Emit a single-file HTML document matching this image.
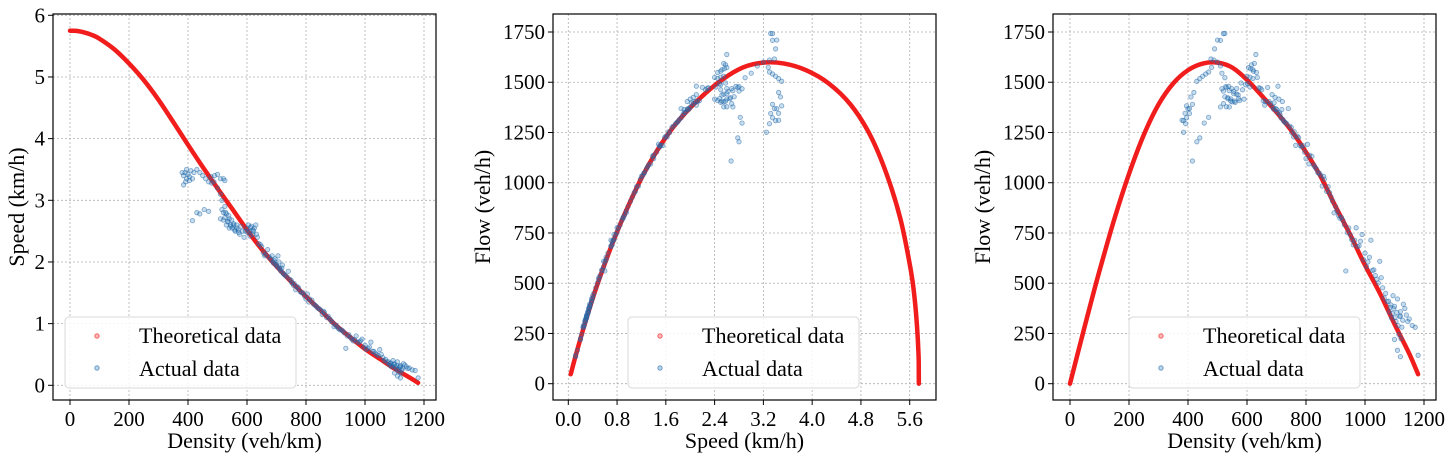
<!DOCTYPE html>
<html><head><meta charset="utf-8">
<style>
body{margin:0;background:#fff;}
svg{display:block;}
text{font-family:"Liberation Serif","Times New Roman",serif;}
</style></head>
<body>
<svg id="fig" width="1456" height="463"></svg>
<script>
// Theoretical curve samples (density veh/km, speed km/h)
const theoDensity=[0,10,25,50,75,100,150,200,250,300,350,400,450,500,550,600,650,700,750,800,850,900,950,1000,1050,1100,1150,1180];
const theoSpeed=[5.75,5.749,5.745,5.72,5.68,5.62,5.45,5.22,4.95,4.63,4.27,3.90,3.54,3.195,2.86,2.52,2.205,1.93,1.68,1.44,1.212,0.98,0.78,0.59,0.43,0.27,0.13,0.04];
// Actual data (density, speed)
const actDensity=[380,385,390,392,395,400,405,410,415,420,385,415,440,455,430,470,430,440,450,460,470,480,490,500,510,520,525,500,510,515,510,515,520,525,530,535,540,545,550,555,560,565,570,575,580,585,590,520,530,540,600,605,610,615,620,625,630,635,640,610,620,650,660,670,680,685,690,695,700,705,710,715,720,725,730,740,745,750,760,765,770,780,790,795,800,805,810,820,830,840,850,855,860,870,880,890,895,900,910,920,930,935,940,950,960,970,980,990,1000,1010,1020,1030,1040,1050,1060,1070,1080,1085,1090,1095,1100,1105,1110,1115,1120,1120,1125,1130,1140,1150,1160,1170,1180,1110,1100,1120,
 525,535,545,555,528,538,548,558,565,572,595,602,612,622,632,645,655,662,675,688,692,698,703,708,712,718,722,735,752,758,775,785,812,825,835,845,862,875,885,905,915,925,945,955,965,975,985,995,1005,1015,1025,1035,1045,1055,1065,1075,1082,1088,1092,1098,1102,1108,1112,1118,1122,1128,1135,1145,395,405,488,478];
const actSpeed=[3.45,3.4,3.45,3.3,3.5,3.42,3.38,3.48,3.35,3.45,3.25,2.67,2.78,2.85,2.8,2.82,3.5,3.45,3.4,3.35,3.3,3.28,3.4,3.42,3.35,3.35,3.32,3.2,3.1,3.0,2.7,2.85,2.8,2.9,2.78,2.65,2.7,2.6,2.55,2.62,2.5,2.55,2.52,2.45,2.58,2.5,2.4,2.68,2.6,2.55,2.55,2.6,2.5,2.58,2.45,2.55,2.6,2.4,2.3,2.42,2.52,2.25,2.1,2.2,2.05,2.1,1.98,2.05,1.95,2.1,1.9,1.85,1.95,1.8,1.78,1.85,1.72,1.7,1.65,1.55,1.6,1.52,1.5,1.45,1.4,1.48,1.35,1.38,1.3,1.25,1.22,1.15,1.2,1.1,1.08,1.02,0.95,0.98,0.92,0.9,0.85,0.6,0.8,0.78,0.72,0.8,0.7,0.75,0.65,0.6,0.7,0.55,0.5,0.58,0.45,0.42,0.38,0.35,0.3,0.4,0.35,0.28,0.38,0.22,0.12,0.32,0.25,0.35,0.3,0.28,0.25,0.24,0.12,0.15,0.2,0.3,
 2.72,2.66,2.58,2.6,2.8,2.75,2.68,2.52,2.6,2.48,2.5,2.48,2.56,2.5,2.45,2.28,2.15,2.12,2.08,2.0,2.02,1.96,1.92,2.0,1.88,1.9,1.82,1.76,1.66,1.62,1.58,1.5,1.4,1.32,1.28,1.24,1.18,1.12,1.05,0.95,0.9,0.88,0.82,0.75,0.74,0.7,0.72,0.62,0.58,0.62,0.55,0.52,0.48,0.5,0.4,0.38,0.33,0.36,0.32,0.34,0.3,0.32,0.26,0.3,0.2,0.28,0.33,0.27,3.35,3.32,3.3,3.38];
const densTicks=[0,200,400,600,800,1000,1200];
const speedTicks=[0,1,2,3,4,5,6];
const speedTicks2=[0,0.8,1.6,2.4,3.2,4.0,4.8,5.6];
const flowTicks=[0,250,500,750,1000,1250,1500,1750];

const NS="http://www.w3.org/2000/svg";
const svg=document.getElementById('fig');
function mk(tag,attrs,parent){const e=document.createElementNS(NS,tag);for(const k in attrs)e.setAttribute(k,attrs[k]);(parent||svg).appendChild(e);return e;}
function lin(d0,d1,r0,r1){return v=>r0+(v-d0)/(d1-d0)*(r1-r0);}
function crPath(pts){let d="M"+pts[0][0]+","+pts[0][1];for(let i=0;i<pts.length-1;i++){const p0=pts[Math.max(0,i-1)],p1=pts[i],p2=pts[i+1],p3=pts[Math.min(pts.length-1,i+2)];d+=" C"+(p1[0]+(p2[0]-p0[0])/6)+","+(p1[1]+(p2[1]-p0[1])/6)+" "+(p2[0]-(p3[0]-p1[0])/6)+","+(p2[1]-(p3[1]-p1[1])/6)+" "+p2[0]+","+p2[1];}return d;}
const FF='"Liberation Serif", "Times New Roman", serif';

function panel(o){
  const g=mk('g',{});
  
  
  const X=o.sx,Y=o.sy;
  o.xt.forEach(t=>{const l=mk('line',{x1:X(t),x2:X(t),y1:o.top,y2:o.bot,stroke:'#b0b0b0','stroke-width':0.8,'stroke-dasharray':'2,2'},g);});
  o.yt.forEach(t=>{const l=mk('line',{x1:o.left,x2:o.right,y1:Y(t),y2:Y(t),stroke:'#b0b0b0','stroke-width':0.8,'stroke-dasharray':'2,2'},g);});
  const pts=theoDensity.map((k,i)=>[X(o.fx(k,theoSpeed[i])),Y(o.fy(k,theoSpeed[i]))]);
  const c=mk('path',{d:crPath(pts),fill:'none',stroke:'#f01010','stroke-width':4.5,'stroke-linecap':'round','stroke-opacity':0.95},g);
  
  actDensity.forEach((k,i)=>{const p=mk('circle',{cx:X(o.fx(k,actSpeed[i])),cy:Y(o.fy(k,actSpeed[i])),r:2.2,fill:'rgba(31,119,180,0.25)',stroke:'rgba(31,100,170,0.55)','stroke-width':0.8},g);
    });
  const f=mk('rect',{x:o.left,y:o.top,width:o.right-o.left,height:o.bot-o.top,fill:'none',stroke:'#000','stroke-width':1.2},g);
  
  o.xt.forEach(t=>{mk('line',{x1:X(t),x2:X(t),y1:o.bot,y2:o.bot+5,stroke:'#000'},g);
    const tx=mk('text',{x:X(t),y:o.bot+26,'text-anchor':'middle','font-size':21,'font-family':FF},g);tx.textContent=o.xfmt(t);
    });
  o.yt.forEach(t=>{mk('line',{x1:o.left-5,x2:o.left,y1:Y(t),y2:Y(t),stroke:'#000'},g);
    const tx=mk('text',{x:o.left-8,y:Y(t)+7,'text-anchor':'end','font-size':21,'font-family':FF},g);tx.textContent=t;
    });
  const xl=mk('text',{x:(o.left+o.right)/2,y:448,'text-anchor':'middle','font-size':22,'font-family':FF},g);xl.textContent=o.xlabel;
  
  const yl=mk('text',{x:0,y:0,'text-anchor':'middle','font-size':22,'font-family':FF,transform:`translate(${o.ylx},207) rotate(-90)`},g);yl.textContent=o.ylabel;
  
  const lg=mk('g',{},g);
  mk('rect',{x:o.lx,y:317,width:231,height:71,rx:4,fill:'rgba(255,255,255,0.85)',stroke:'#d8d8d8'},lg);
  mk('circle',{cx:o.lx+32,cy:336,r:2.2,fill:'rgba(240,16,16,0.3)',stroke:'rgba(240,16,16,0.6)'},lg);
  mk('circle',{cx:o.lx+32,cy:368,r:2.2,fill:'rgba(31,119,180,0.3)',stroke:'rgba(31,100,170,0.6)'},lg);
  const t1=mk('text',{x:o.lx+74,y:343,'font-size':22,'font-family':FF},lg);t1.textContent='Theoretical data';
  
  const t2=mk('text',{x:o.lx+74,y:376,'font-size':22,'font-family':FF},lg);t2.textContent='Actual data';
  
}

panel({name:'speed-density-chart',left:53,right:436,top:14,bot:400,sx:lin(0,1200,70,424),sy:lin(0,6,385.3,15.3),
  xt:densTicks,yt:speedTicks,xfmt:t=>t,fx:(k,v)=>k,fy:(k,v)=>v,xlabel:'Density (veh/km)',ylabel:'Speed (km/h)',ylx:24,lx:65});
panel({name:'flow-speed-chart',left:553,right:936,top:14,bot:400,sx:lin(0,5.6,568.3,909.7),sy:lin(0,1750,383.7,32),
  xt:speedTicks2,yt:flowTicks,xfmt:t=>t.toFixed(1),fx:(k,v)=>v,fy:(k,v)=>k*v,xlabel:'Speed (km/h)',ylabel:'Flow (veh/h)',ylx:490,lx:628});
panel({name:'flow-density-chart',left:1053,right:1436,top:14,bot:400,sx:lin(0,1200,1070,1424),sy:lin(0,1750,383.7,32),
  xt:densTicks,yt:flowTicks,xfmt:t=>t,fx:(k,v)=>k,fy:(k,v)=>k*v,xlabel:'Density (veh/km)',ylabel:'Flow (veh/h)',ylx:990,lx:1129});
</script>
</body></html>
